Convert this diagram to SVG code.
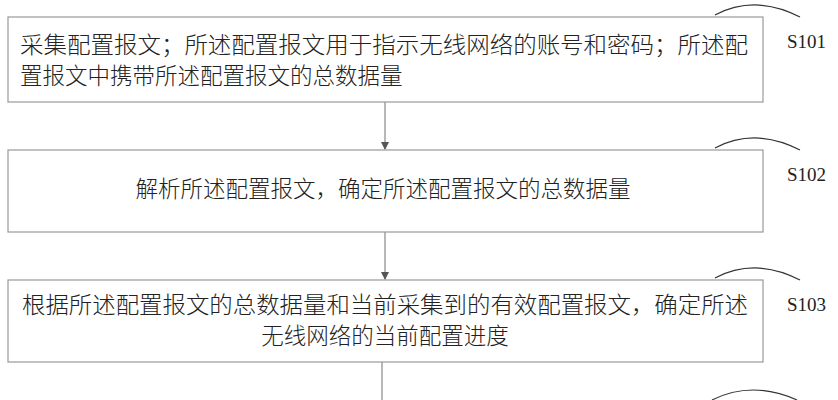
<svg xmlns="http://www.w3.org/2000/svg" width="838" height="400" viewBox="0 0 838 400">
<style>
.box{fill:#fff;stroke:#999;stroke-width:1.2}
.t{font-family:"Noto Sans CJK SC",sans-serif;font-size:22.5px;fill:#222;font-weight:300}
.m{text-anchor:middle}
.l{font-family:"Liberation Serif",serif;font-size:19px;fill:#222}
.c{fill:none;stroke:#333;stroke-width:1.2}
.a{stroke:#888;stroke-width:1.2;fill:none}
</style>
<defs><marker id="ar" markerWidth="8" markerHeight="8" refX="7" refY="4" orient="auto" markerUnits="userSpaceOnUse"><path d="M0,0L8,4L0,8z" fill="#555"/></marker></defs>
<rect width="838" height="400" fill="#fff"/>
<g id="connectors">
<line class="a" x1="385" y1="102" x2="385" y2="149" marker-end="url(#ar)"/>
<line class="a" x1="385" y1="232" x2="385" y2="279" marker-end="url(#ar)"/>
<line class="a" x1="382" y1="362" x2="382" y2="400"/>
</g>
<g id="S101"><rect class="box" x="8" y="17" width="755" height="85"/>
<text class="t" x="20" y="53" textLength="728" lengthAdjust="spacingAndGlyphs">采集配置报文；所述配置报文用于指示无线网络的账号和密码；所述配</text>
<text class="t" x="20" y="84">置报文中携带所述配置报文的总数据量</text>
<path class="c" d="M715,15 Q755,-6 800,17"/><text class="l" x="787" y="48">S101</text></g>
<g id="S102"><rect class="box" x="8" y="150" width="755" height="82"/>
<text class="t m" x="383" y="197">解析所述配置报文，确定所述配置报文的总数据量</text>
<path class="c" d="M715,148 Q755,127 800,150"/><text class="l" x="787" y="181">S102</text></g>
<g id="S103"><rect class="box" x="8" y="280" width="755" height="82"/>
<text class="t" x="22" y="313" textLength="726" lengthAdjust="spacingAndGlyphs">根据所述配置报文的总数据量和当前采集到的有效配置报文，确定所述</text>
<text class="t m" x="385" y="344">无线网络的当前配置进度</text>
<path class="c" d="M715,278 Q755,257 800,280"/><text class="l" x="787" y="311">S103</text></g>
<g id="S104"><path class="c" d="M712,400 Q752,380 797,400"/></g>
</svg>
